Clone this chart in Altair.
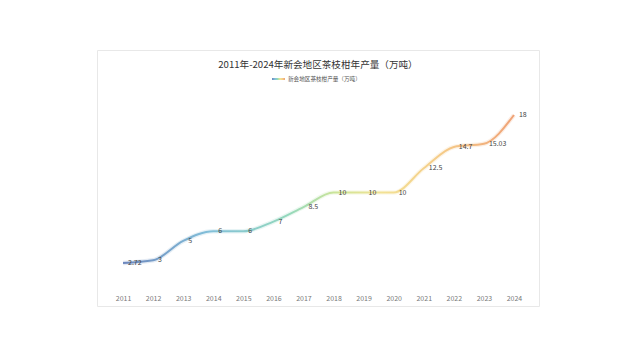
import altair as alt
import pandas as pd

years = ["2011", "2012", "2013", "2014", "2015", "2016", "2017",
         "2018", "2019", "2020", "2021", "2022", "2023", "2024"]
output = [2.72, 3, 5, 6, 6, 7, 8.5, 10, 10, 10, 12.5, 14.7, 15.03, 18]
labels = ["2.72", "3", "5", "6", "6", "7", "8.5", "10", "10", "10",
          "12.5", "14.7", "15.03", "18"]
title_text = "2011年-2024年新会地区茶枝柑年产量（万吨）"
legend_text = "新会地区茶枝柑产量（万吨）"

df = pd.DataFrame({"year": years, "value": output, "label": labels})

FONT = "Noto Sans CJK SC"

stops = [
    alt.GradientStop(offset=0.0, color="#6d87bd"),
    alt.GradientStop(offset=0.22, color="#82bfd9"),
    alt.GradientStop(offset=0.42, color="#93d8bd"),
    alt.GradientStop(offset=0.55, color="#cfe597"),
    alt.GradientStop(offset=0.66, color="#f2e295"),
    alt.GradientStop(offset=0.82, color="#f5ca88"),
    alt.GradientStop(offset=1.0, color="#efa276"),
]
grad = alt.Gradient(gradient="linear", x1=0, x2=1, y1=0, y2=0, stops=stops)

xs = alt.Scale(type="point", range=[11, 432], padding=0.5)
ys = alt.Scale(domain=[0, 20], range=[239.4, 45.6])

base = alt.Chart(df)

x_enc = alt.X("year:O", scale=xs, sort=years,
              axis=alt.Axis(title=None, labelAngle=0, domain=False, ticks=False,
                            grid=False, labelFontSize=7, labelColor="#777777",
                            labelFont=FONT, labelPadding=5, offset=-16.6))
y_enc = alt.Y("value:Q", scale=ys, axis=None)

shadow = base.mark_line(interpolate="monotone", strokeWidth=4.5, stroke=grad,
                        opacity=0.2).encode(x=x_enc, y=y_enc)
line = base.mark_line(interpolate="monotone", strokeWidth=2, stroke=grad).encode(
    x=x_enc, y=y_enc)

text = base.mark_text(align="left", baseline="middle", dx=5, fontSize=7,
                      font=FONT, color="#444444").encode(
    x=x_enc, y=y_enc, text="label:N")

leg_line = alt.Chart(pd.DataFrame({"k": [0]})).mark_rect(
    fill=grad).encode(
    x=alt.value(175), x2=alt.value(188), y=alt.value(28), y2=alt.value(30))
leg_text = alt.Chart(pd.DataFrame({"t": [legend_text]})).mark_text(
    align="left", baseline="middle", fontSize=5.6, font=FONT, color="#555555").encode(
    x=alt.value(191), y=alt.value(29), text="t:N")

chart = alt.layer(shadow, line, text, leg_line, leg_text).properties(
    width=442, height=256,
    autosize=alt.AutoSizeParams(type="none"),
    padding={"left": 89, "top": 42, "right": 93, "bottom": 46},
    background="#ffffff",
    title=alt.TitleParams(title_text, anchor="middle", fontSize=9.6, font=FONT,
                          fontWeight="normal", color="#333333", offset=-25,
                          baseline="middle"),
).configure_view(stroke="#e8e8e8", strokeWidth=1, fill="#ffffff")

chart.save("out.html", embed_options={"renderer": "svg", "actions": False})
